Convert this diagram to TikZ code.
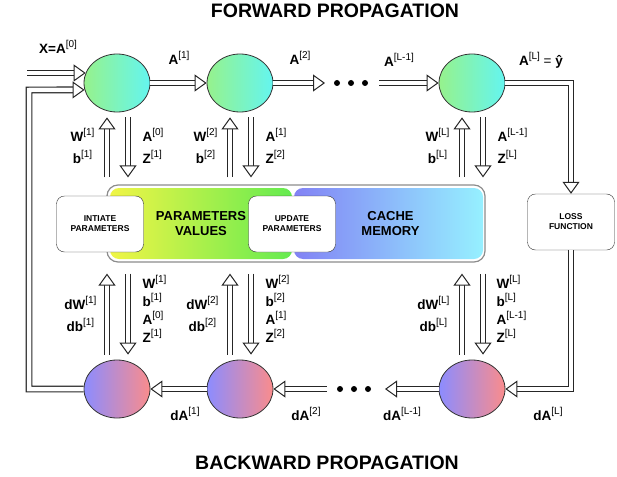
\documentclass[tikz,border=0pt]{standalone}
\usepackage{fontspec}
\setmainfont{Liberation Sans}
\usetikzlibrary{shapes.geometric,arrows.meta,positioning}

\definecolor{fwdl}{RGB}{150,242,140}
\definecolor{fwdr}{RGB}{100,245,240}
\definecolor{bwdl}{RGB}{140,140,255}
\definecolor{bwdr}{RGB}{250,140,140}
\definecolor{pvl}{RGB}{240,245,70}
\definecolor{pvr}{RGB}{100,235,80}
\definecolor{cml}{RGB}{130,130,245}
\definecolor{cmr}{RGB}{150,240,255}

\newcommand{\lay}[2]{\textbf{#1}\raisebox{0.42em}{\fontsize{10}{10}\selectfont[#2]}}

\begin{document}
\begin{tikzpicture}[x=1pt,y=-1pt,
    fat/.style={double=white,double distance=4.5pt,line width=1.2pt,draw=black!85,-{Triangle[length=12pt,width=17pt,fill=white,line width=1pt]}},
    fwd/.style={ellipse,draw=black!80,line width=0.8pt,minimum width=66,minimum height=58,left color=fwdl,right color=fwdr},
    bwd/.style={ellipse,draw=black!80,line width=0.8pt,minimum width=66,minimum height=58,left color=bwdl,right color=bwdr},
    box/.style={draw=black!80,rounded corners=8pt,fill=white,minimum width=87,minimum height=56,align=center,font=\fontsize{8.5}{10}\selectfont\bfseries},
    lbl/.style={font=\fontsize{13.5}{18}\selectfont},
    ttl/.style={font=\fontsize{19.5}{21}\selectfont\bfseries}]
    \useasboundingbox (0,0) rectangle (617,476);

    % titles
    \node[ttl] (fwdt) at (335,11) {FORWARD PROPAGATION};
    \node[ttl] (bwdt) at (327,463) {BACKWARD PROPAGATION};

    % memory block
    \node[draw=black!45,line width=1.2pt,rounded corners=11pt,minimum width=378,minimum height=77] (mem) at (296,223.5) {};
    \node[rounded corners=9pt,minimum width=182,minimum height=71,left color=pvl,right color=pvr,align=center,font=\fontsize{13}{15}\selectfont\bfseries] (pv) at (201,223.5) {PARAMETERS\\VALUES};
    \node[rounded corners=9pt,minimum width=189,minimum height=71,left color=cml,right color=cmr,align=center,font=\fontsize{13}{15}\selectfont\bfseries] (cm) at (388.5,223.5) {\hspace*{4pt}CACHE\\\hspace*{4pt}MEMORY};
    \node[box] (init) at (100,224) {INTIATE\\PARAMETERS};
    \node[box] (upd) at (292,224) {UPDATE\\PARAMETERS};
    \node[box] (loss) at (571,222) {LOSS\\FUNCTION};

    % forward layers
    \node[fwd] (f1) at (117,83) {};
    \node[fwd] (f2) at (240,83) {};
    \node[fwd] (fL) at (472,83) {};

    % backward layers
    \node[bwd] (b1) at (117,389) {};
    \node[bwd] (b2) at (240,389) {};
    \node[bwd] (bL) at (472,389) {};

    \coordinate (xin) at (27,73);
    \coordinate (lp) at (29,90);
    \coordinate (fd1) at (325,83);
    \coordinate (fd2) at (379,83);
    \coordinate (bd1) at (327,389);
    \coordinate (bd2) at (385,389);

    % forward arrows
    \draw[fat] (xin) -- (xin -| f1.162);
    \draw[fat] (b1.west) -| (lp) -- (f1.192);
    \draw[fat] (f1) -- (f2);
    \draw[fat] (f2) -- (fd1);
    \draw[fat] (fd2) -- (fL);
    \draw[fat] (fL.east) -| (loss.north);
    \fill (337,83) circle (3) (351,83) circle (3) (365,83) circle (3);

    % backward arrows
    \draw[fat] (loss.south) |- (bL.east);
    \draw[fat] (bL) -- (bd2);
    \draw[fat] (bd1) -- (b2);
    \draw[fat] (b2) -- (b1);
    \fill (340,389) circle (3) (354,389) circle (3) (368,389) circle (3);

    % parameters to forward layers
    \draw[fat] ([xshift=-10pt,yshift=-65pt]f1.south) -- ([xshift=-10pt,yshift=-5pt]f1.south);
    \draw[fat] ([xshift=11pt,yshift=-5pt]f1.south) -- ([xshift=11pt,yshift=-65pt]f1.south);
    \draw[fat] ([xshift=-10pt,yshift=-65pt]f2.south) -- ([xshift=-10pt,yshift=-5pt]f2.south);
    \draw[fat] ([xshift=11pt,yshift=-5pt]f2.south) -- ([xshift=11pt,yshift=-65pt]f2.south);
    \draw[fat] ([xshift=-10pt,yshift=-65pt]fL.south) -- ([xshift=-10pt,yshift=-5pt]fL.south);
    \draw[fat] ([xshift=11pt,yshift=-5pt]fL.south) -- ([xshift=11pt,yshift=-65pt]fL.south);

    % gradients and cache to backward layers
    \draw[fat] ([xshift=-10pt,yshift=5pt]b1.north) -- ([xshift=-10pt,yshift=86pt]b1.north);
    \draw[fat] ([xshift=11pt,yshift=86pt]b1.north) -- ([xshift=11pt,yshift=5pt]b1.north);
    \draw[fat] ([xshift=-10pt,yshift=5pt]b2.north) -- ([xshift=-10pt,yshift=86pt]b2.north);
    \draw[fat] ([xshift=11pt,yshift=86pt]b2.north) -- ([xshift=11pt,yshift=5pt]b2.north);
    \draw[fat] ([xshift=-10pt,yshift=5pt]bL.north) -- ([xshift=-10pt,yshift=86pt]bL.north);
    \draw[fat] ([xshift=11pt,yshift=86pt]bL.north) -- ([xshift=11pt,yshift=5pt]bL.north);

    % forward labels
    \node[lbl] (x0) at (58,47) {\lay{X=A}{0}};
    \node[lbl] (a1) at (179,58) {\lay{A}{1}};
    \node[lbl] (a2) at (300,58) {\lay{A}{2}};
    \node[lbl] (aLm) at (399,60) {\lay{A}{L-1}};
    \node[lbl] (aL) at (541,60) {\lay{A}{L} = \textbf{\^{y}}};
    \node[lbl,anchor=east,align=center] (wb1) at (98,146) {\lay{W}{1}\\[4pt]\lay{b}{1}};
    \node[lbl,anchor=west,align=left] (az1) at (139,146) {\lay{A}{0}\\[4pt]\lay{Z}{1}};
    \node[lbl,anchor=east,align=center] (wb2) at (221,146) {\lay{W}{2}\\[4pt]\lay{b}{2}};
    \node[lbl,anchor=west,align=left] (az2) at (262,146) {\lay{A}{1}\\[4pt]\lay{Z}{2}};
    \node[lbl,anchor=east,align=center] (wbL) at (453,146) {\lay{W}{L}\\[4pt]\lay{b}{L}};
    \node[lbl,anchor=west,align=left] (azL) at (494,146) {\lay{A}{L-1}\\[4pt]\lay{Z}{L}};

    % backward labels
    \node[lbl] (da1) at (185,414) {\lay{dA}{1}};
    \node[lbl] (da2) at (306,414) {\lay{dA}{2}};
    \node[lbl] (daLm) at (402,414) {\lay{dA}{L-1}};
    \node[lbl] (daL) at (548,414) {\lay{dA}{L}};
    \node[lbl,anchor=east,align=center] (dwb1) at (100,314) {\lay{dW}{1}\\[4pt]\lay{db}{1}};
    \node[lbl,anchor=west,align=left] (wbaz1) at (139,309) {\lay{W}{1}\\\lay{b}{1}\\\lay{A}{0}\\\lay{Z}{1}};
    \node[lbl,anchor=east,align=center] (dwb2) at (222,314) {\lay{dW}{2}\\[4pt]\lay{db}{2}};
    \node[lbl,anchor=west,align=left] (wbaz2) at (262,309) {\lay{W}{2}\\\lay{b}{2}\\\lay{A}{1}\\\lay{Z}{2}};
    \node[lbl,anchor=east,align=center] (dwbL) at (453,314) {\lay{dW}{L}\\[4pt]\lay{db}{L}};
    \node[lbl,anchor=west,align=left] (wbazL) at (493,309) {\lay{W}{L}\\\lay{b}{L}\\\lay{A}{L-1}\\\lay{Z}{L}};
\end{tikzpicture}
\end{document}
